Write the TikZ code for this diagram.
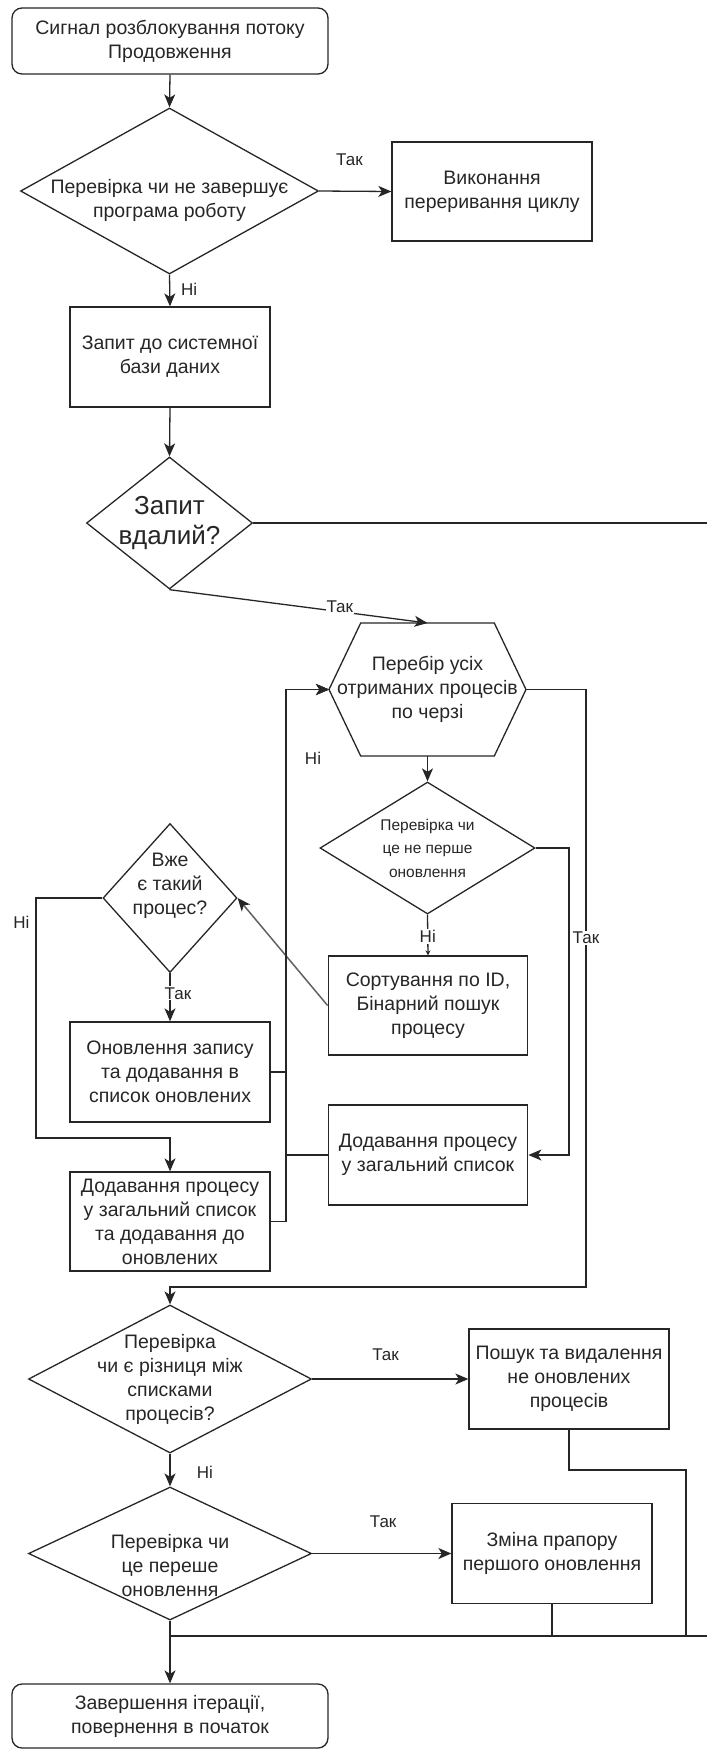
\documentclass[tikz,border=0pt]{standalone}
\usepackage{fontspec}
\setmainfont{Liberation Sans}
\usetikzlibrary{shapes.geometric,arrows.meta}
\begin{document}
\begin{tikzpicture}[x=1pt,y=-1pt,
  every node/.style={font=\fontsize{19.5}{24}\selectfont, text=black!85},
  line/.style={line width=1.3pt, draw=black!85},
  tip/.style={-{Stealth[length=13pt,width=11pt,inset=3.5pt]}},
  arr/.style={line, tip},
  base/.style={draw=black!85, line width=1.3pt, inner sep=0pt, align=center},
  box/.style={base, rectangle, minimum width=200pt, minimum height=100pt},
  term/.style={base, rectangle, rounded corners=10pt, minimum width=316pt, minimum height=66pt},
  decision/.style={base, diamond},
  txt/.style={inner sep=0pt, align=center},
  lbl/.style={font=\fontsize{17}{20}\selectfont, inner sep=1pt},
  lblw/.style={lbl, fill=white}]

\useasboundingbox (0,0) rectangle (707,1749);

% ---------- nodes ----------
\node[term] (start) at (170,41) {Сигнал розблокування потоку\\Продовження};

\node[decision, minimum width=298pt, minimum height=166pt] (d1) at (169.5,191) {};
\node[txt] (d1t) at ([yshift=-9pt]d1.center) {Перевірка чи не завершує\\програма роботу};

\node[box, minimum height=99pt] (stop) at (492,191.5) {Виконання\\переривання циклу};

\node[box] (query) at (170,357) {Запит до системної\\бази даних};

\node[decision, minimum width=166pt, minimum height=132pt] (d2) at (169.5,523) {};
\node[txt, font=\fontsize{26}{30}\selectfont] (d2t) at (d2.center) {Запит\\вдалий?};

% loop header (hexagon outline drawn below)
\node[txt, outer sep=0pt, minimum width=197pt, minimum height=133pt] (hex) at (427.5,689.5)
  {Перебір усіх\\отриманих процесів\\по черзі};
\draw[line, line join=miter] (hex.west) -- ([xshift=31.7pt]hex.north west) -- ([xshift=-31.7pt]hex.north east)
  -- (hex.east) -- ([xshift=-31.7pt]hex.south east) -- ([xshift=31.7pt]hex.south west) -- cycle;

\node[decision, minimum width=215pt, minimum height=132pt] (d3) at (427.5,848) {};
\node[txt, font=\fontsize{15.5}{23.5}\selectfont] (d3t) at (d3.center) {Перевірка чи\\це не перше\\оновлення};

\node[box, minimum width=199.5pt, minimum height=99pt] (sort) at (428,1005.5) {Сортування по ID,\\Бінарний пошук\\процесу};

\node[decision, minimum width=134pt, minimum height=149pt] (d4) at (170,898) {};
\node[txt] (d4t) at ([yshift=12pt]d4.center) {Вже\\є такий\\процес?};

\node[box] (upd) at (170,1072) {Оновлення запису\\та додавання в\\список оновлених};
\node[box, minimum width=199.5pt] (addR) at (428,1155) {Додавання процесу\\у загальний список};
\node[box, minimum height=99pt] (addL) at (170,1221.5) {Додавання процесу\\у загальний список\\та додавання до\\оновлених};

\node[decision, minimum width=283pt, minimum height=148pt] (d5) at (170,1379) {};
\node[txt] (d5t) at (d5.center) {Перевірка\\чи є різниця між\\списками\\процесів?};

\node[box] (del) at (569,1379) {Пошук та видалення\\не оновлених\\процесів};

\node[decision, minimum width=283pt, minimum height=133pt] (d6) at (170,1553.5) {};
\node[txt] (d6t) at ([yshift=-12.5pt]d6.center) {Перевірка чи\\це переше\\оновлення};

\node[box] (flag) at (552,1553.5) {Зміна прапору\\першого оновлення};

\node[term, minimum height=64pt] (end) at (170,1716) {Завершення ітерації,\\повернення в початок};

% ---------- helper points ----------
\coordinate (out) at (707,523);
\coordinate (lx) at (286,700);
\coordinate (hr) at (586,1287);
\coordinate (nl) at (36,1138);
\coordinate (tr) at (569,1155);
\coordinate (dm) at (686,1470);
\coordinate (rc) at (686,1636);
\coordinate (jn) at (170,1636);
\coordinate (jr) at (707,1636);

% ---------- connectors ----------
\draw[arr] (start.south) -- (d1.north);
\draw[arr] (d1.east) -- node[lbl, pos=0.42, yshift=31pt] (l1) {Так} (stop.west);
\draw[arr] (d1.south) -- node[lbl, pos=0.45, xshift=19.5pt] (l2) {Ні} (query.north);
\draw[arr] (query.south) -- (d2.north);
\draw[line] (d2.east) -- (out);
\draw[arr] (d2.south) -- node[lblw, pos=0.66, yshift=5pt] (l3) {Так} (hex.north);

\draw[arr] (hex.south) -- (d3.north);
\draw[line, -{Stealth[length=5pt,width=5pt]}] (d3.south) -- node[lblw, pos=0.54] (l4) {Ні} (sort.north);
\draw[arr] (d3.east) -| (tr) -- (addR.east);
\draw[arr] (hex.east) -| node[lblw, pos=0.708] (l5) {Так} (hr) -| (d5.north);

\draw[line, line width=1.5pt, draw=black!62, -{Stealth[length=13pt,width=11pt,inset=3.5pt,color=black!85]}] (sort.west) -- (d4.east);
\draw[arr] (d4.south) -- node[lblw, pos=0.42, xshift=8pt] (l6) {Так} (upd.north);
\draw[arr] (d4.west) -| (nl) -| (addL.north);
\node[lbl] (l7) at (21.5,922) {Ні};
\node[lbl] (l8) at (313,758) {Ні};

\draw[arr] (upd.east) -- (upd.east -| lx) |- (hex.west);
\draw[arr] (addR.west) -- (addR.west -| lx) |- (hex.west);
\draw[arr] (addL.east) -- (addL.east -| lx) |- (hex.west);

\draw[arr] (d5.east) -- node[lbl, pos=0.47, yshift=24pt] (l9) {Так} (del.west);
\draw[arr] (d5.south) -- node[lbl, pos=0.56, xshift=35pt] (l10) {Ні} (d6.north);
\draw[arr] (d6.east) -- node[lbl, pos=0.51, yshift=31.5pt] (l11) {Так} (flag.west);

\draw[line] (del.south) |- (dm) -- (rc);
\draw[line] (flag.south) -- (flag.south |- jn);
\draw[line] (jn) -- (jr);
\draw[arr] (d6.south) -- (end.north);

\end{tikzpicture}
\end{document}
